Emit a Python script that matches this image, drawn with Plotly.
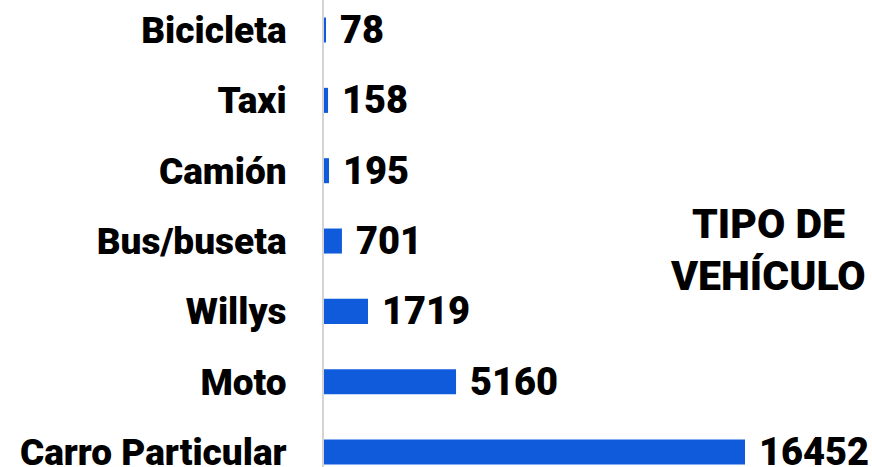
import plotly.graph_objects as go

# Vehicle types, listed from the bottom bar to the top bar
tipos = ["Carro Particular", "Moto", "Willys", "Bus/buseta", "Camión", "Taxi", "Bicicleta"]
cantidades = [16452, 5160, 1719, 701, 195, 158, 78]

FONT = "Roboto"
BLUE = "#0f5bdb"
H = 467

fig = go.Figure(
    go.Bar(
        x=cantidades,
        y=tipos,
        orientation="h",
        marker=dict(color=BLUE, line=dict(width=0)),
        width=0.356,
        hoverinfo="x+y",
    )
)

# Value labels to the right of each bar
for t, v in zip(tipos, cantidades):
    fig.add_annotation(
        x=v, y=t, text=str(v), showarrow=False,
        xanchor="left", yanchor="middle", xshift=12,
        font=dict(family=FONT, size=38, color="#000", weight=900),
    )

# Chart heading on the right side (positions given in pixel rows)
for text, row in [("TIPO DE", 224), ("VEHÍCULO", 276)]:
    fig.add_annotation(
        x=0.811, y=1 - row / H, xref="paper", yref="paper", text=text,
        showarrow=False, xanchor="center", yanchor="middle",
        font=dict(family=FONT, size=41, color="#000", weight=900),
    )

fig.update_layout(
    width=872,
    height=H,
    margin=dict(l=324, r=0, t=0, b=0),
    paper_bgcolor="white",
    plot_bgcolor="white",
    showlegend=False,
    xaxis=dict(
        range=[0, 21415],
        visible=False,
        showgrid=False,
        zeroline=False,
    ),
    yaxis=dict(
        range=[-0.213, 6.427],
        automargin=False,
        showgrid=False,
        zeroline=False,
        showline=True,
        linecolor="#d4d4d4",
        linewidth=2,
        ticks="",
        ticklabelstandoff=28,
        tickfont=dict(family=FONT, size=37, color="#000", weight=900),
    ),
)

fig.write_html("out.html")
